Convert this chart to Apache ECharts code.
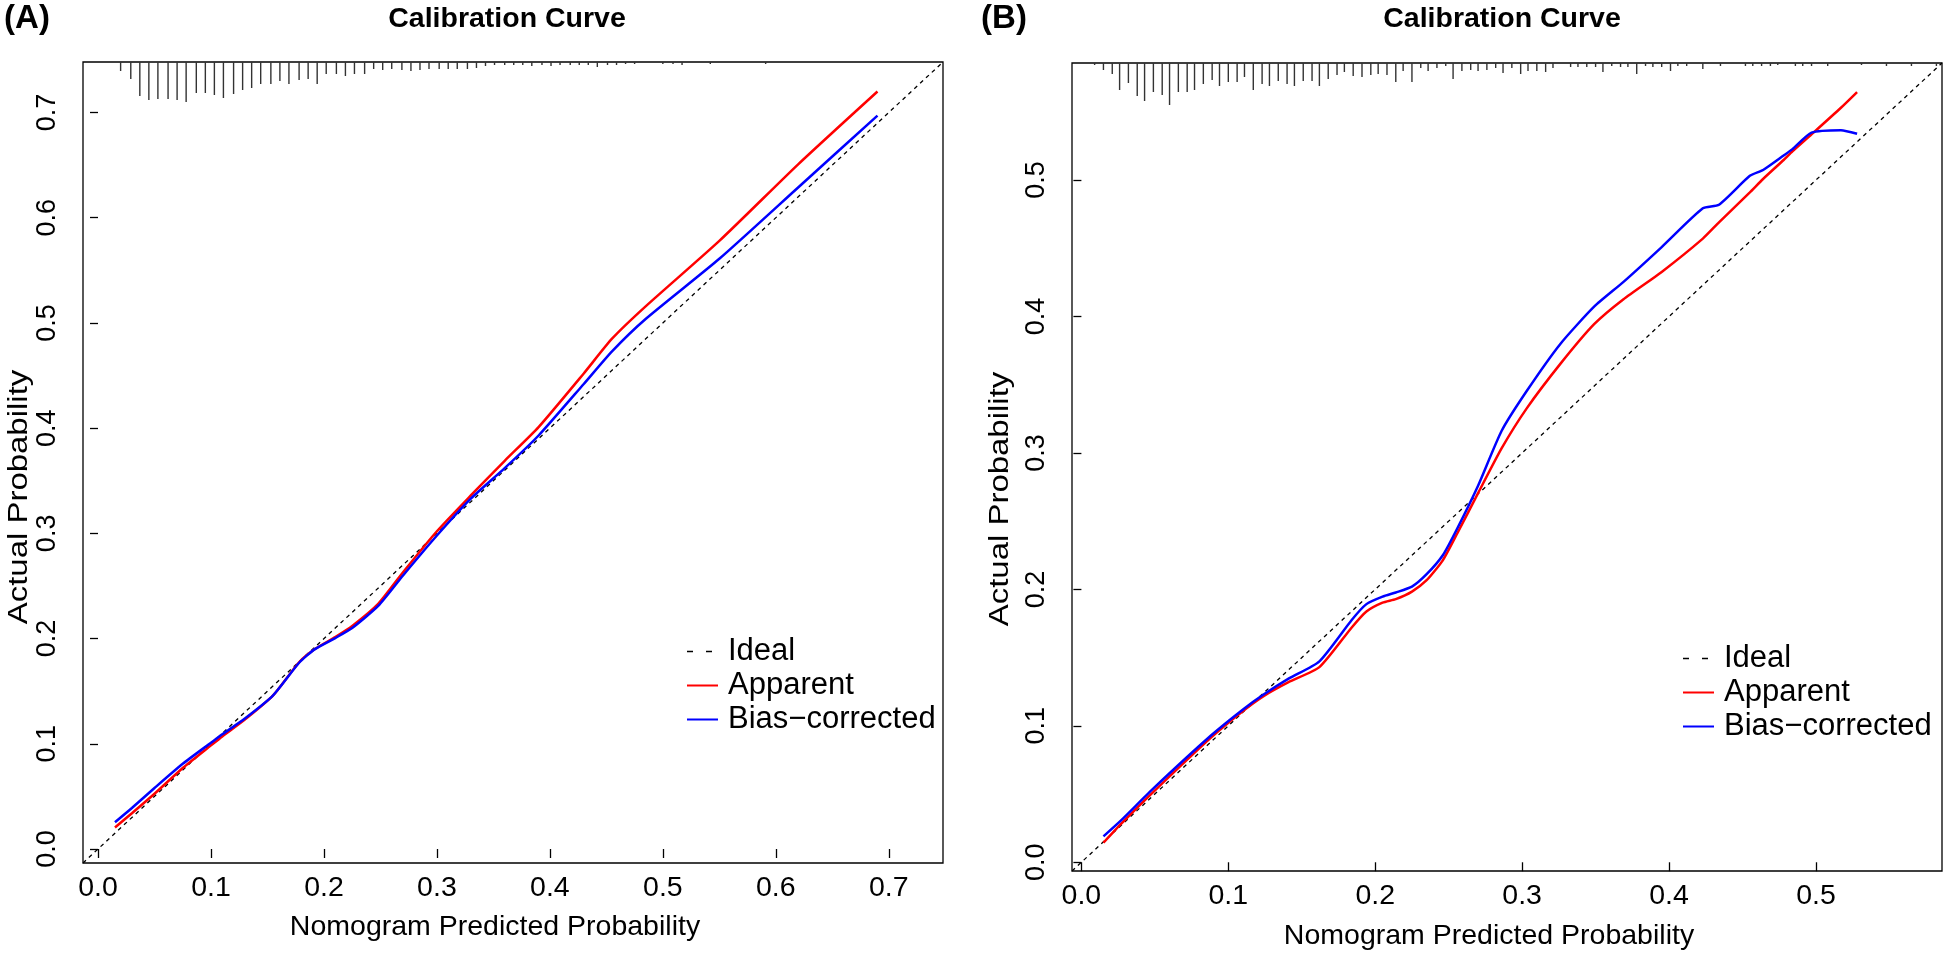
<!DOCTYPE html>
<html>
<head>
<meta charset="utf-8">
<title>Calibration Curve</title>
<script src="https://cdn.jsdelivr.net/npm/echarts@6/dist/echarts.min.js"></script>
<style>
html,body{margin:0;padding:0;background:#fff;}
#main{width:1944px;height:955px;}
</style>
</head>
<body>
<div id="main"></div>
<script>
// ---------- data ----------
var ticksA = [0, 0.1, 0.2, 0.3, 0.4, 0.5, 0.6, 0.7];
var ticksB = [0, 0.1, 0.2, 0.3, 0.4, 0.5];

// panel A : predicted vs actual
var predA     = [0.015, 0.03, 0.05, 0.075, 0.1, 0.11, 0.13, 0.155, 0.178, 0.192, 0.21, 0.225, 0.248, 0.27, 0.3, 0.33, 0.36, 0.39, 0.43, 0.455, 0.485, 0.55, 0.62, 0.69];
var apparentA = [0.0205, 0.034, 0.0525, 0.077, 0.0985, 0.107, 0.123, 0.146, 0.1775, 0.19, 0.2015, 0.212, 0.233, 0.263, 0.302, 0.336, 0.369, 0.401, 0.452, 0.485, 0.516, 0.578, 0.651, 0.72];
var biasA     = [0.0255, 0.039, 0.058, 0.081, 0.101, 0.109, 0.124, 0.146, 0.177, 0.19, 0.2005, 0.21, 0.231, 0.26, 0.298, 0.333, 0.362, 0.393, 0.442, 0.473, 0.504, 0.561, 0.629, 0.697];

// panel B
var predB     = [0.015, 0.027, 0.0485, 0.088, 0.11, 0.124, 0.141, 0.162, 0.184, 0.194, 0.205, 0.214, 0.225, 0.235, 0.246, 0.256, 0.27, 0.286, 0.303, 0.326, 0.349, 0.369, 0.395, 0.423, 0.434, 0.455, 0.464, 0.478, 0.484, 0.497, 0.517, 0.528];
var apparentB = [0.0143, 0.0281, 0.0511, 0.0912, 0.1109, 0.1218, 0.132, 0.143, 0.1721, 0.1838, 0.1903, 0.1929, 0.1984, 0.2067, 0.2213, 0.2414, 0.2705, 0.3033, 0.3325, 0.3653, 0.3944, 0.4127, 0.4327, 0.4571, 0.469, 0.491, 0.5008, 0.5147, 0.521, 0.5335, 0.553, 0.5645];
var biasB     = [0.019, 0.0307, 0.0536, 0.0927, 0.112, 0.1229, 0.1346, 0.1473, 0.1776, 0.1892, 0.1947, 0.1977, 0.202, 0.2111, 0.225, 0.245, 0.276, 0.3161, 0.3452, 0.3799, 0.4072, 0.4254, 0.4509, 0.4793, 0.4819, 0.5031, 0.5074, 0.518, 0.5227, 0.5348, 0.5366, 0.534];

// distribution of predictions (rug at the top), relative frequency
var rugXA = [0.020, 0.029, 0.037, 0.045, 0.053, 0.062, 0.070, 0.078, 0.087, 0.095, 0.103, 0.111, 0.120, 0.128, 0.136, 0.144, 0.153, 0.161, 0.169, 0.178, 0.186, 0.194, 0.202, 0.211, 0.219, 0.227, 0.236, 0.244, 0.252, 0.260, 0.269, 0.277, 0.285, 0.293, 0.302, 0.310, 0.318, 0.327, 0.335, 0.343, 0.351, 0.360, 0.368, 0.376, 0.384, 0.393, 0.401, 0.409, 0.418, 0.426, 0.434, 0.442, 0.451, 0.459, 0.467, 0.475, 0.500, 0.509, 0.517, 0.542, 0.591];
var rugFA = [9, 17, 34, 38, 37, 37, 38, 40, 31, 31, 33, 36, 32, 28, 26, 22, 22, 19, 22, 18, 17, 22, 12, 12, 14, 12, 12, 7, 8, 7, 8, 9, 8, 7, 7, 7, 7, 7, 6, 4, 3, 3, 3, 3, 4, 3, 4, 3, 3, 3, 3, 5, 3, 3, 2, 2, 2, 2, 3, 2, 2];
var rugXB = [0.009, 0.015, 0.021, 0.026, 0.032, 0.038, 0.043, 0.049, 0.055, 0.060, 0.066, 0.072, 0.077, 0.083, 0.089, 0.094, 0.100, 0.106, 0.111, 0.117, 0.123, 0.128, 0.134, 0.140, 0.145, 0.151, 0.157, 0.162, 0.168, 0.174, 0.179, 0.185, 0.191, 0.197, 0.202, 0.208, 0.214, 0.219, 0.225, 0.231, 0.236, 0.242, 0.248, 0.253, 0.259, 0.265, 0.270, 0.276, 0.282, 0.287, 0.293, 0.299, 0.304, 0.310, 0.316, 0.321, 0.333, 0.338, 0.344, 0.350, 0.355, 0.361, 0.367, 0.372, 0.378, 0.384, 0.389, 0.395, 0.401, 0.406, 0.412, 0.423, 0.435, 0.452, 0.457, 0.463, 0.469, 0.474, 0.486, 0.491, 0.497, 0.508, 0.531, 0.548, 0.565, 0.582];
var rugFB = [2, 7, 11, 27, 20, 33, 38, 29, 32, 42, 29, 29, 27, 21, 17, 23, 19, 19, 14, 27, 21, 23, 18, 21, 23, 18, 18, 23, 16, 12, 9, 13, 14, 12, 11, 12, 19, 8, 19, 5, 8, 5, 3, 16, 8, 7, 8, 7, 5, 10, 5, 11, 8, 8, 9, 5, 4, 4, 4, 4, 9, 3, 4, 4, 11, 3, 4, 4, 8, 3, 3, 6, 3, 3, 3, 3, 3, 2, 3, 3, 3, 3, 2, 3, 3, 3];

var limA = [-0.0133, 0.748];
var limB = [-0.0064, 0.5858];

// ---------- helpers ----------
var FONT = '"Liberation Sans", Arial, Helvetica, sans-serif';
var FS = 28.5;
function pairs(xs, ys){
    var out = [];
    for (var i = 0; i < xs.length; i++) out.push([xs[i], ys[i]]);
    return out;
}
function rugItem(params, api){
    var p = api.coord([api.value(0), 0]);
    var top = params.coordSys.y;
    return {
        type: 'line',
        shape: {x1: p[0], y1: top, x2: p[0], y2: top + api.value(1)},
        style: {stroke: '#333', lineWidth: 1.4}
    };
}
function xAxisOf(idx, lim, ticks){
    return {
        type: 'value', gridIndex: idx, min: lim[0], max: lim[1],
        axisLine: {show: false},
        splitLine: {show: false},
        axisTick: {show: true, inside: false, length: 9, customValues: ticks, lineStyle: {color: '#000', width: 1.3}},
        axisLabel: {show: true, margin: 11, customValues: ticks, color: '#000', fontSize: FS, fontFamily: FONT,
            formatter: function(v){ return v.toFixed(1); }}
    };
}
function yAxisOf(idx, lim, ticks, margin){
    return {
        type: 'value', gridIndex: idx, min: lim[0], max: lim[1],
        axisLine: {show: false},
        splitLine: {show: false},
        axisTick: {show: true, inside: false, length: 8, customValues: ticks, lineStyle: {color: '#000', width: 1.3}},
        axisLabel: {show: true, rotate: 90, margin: margin, customValues: ticks, color: '#000', fontSize: 27, fontFamily: FONT,
            formatter: function(v){ return v.toFixed(1); }}
    };
}
function seriesOf(idx, lim, pred, app, bias, rugX, rugF){
    return [
        {name: 'Ideal', type: 'line', xAxisIndex: idx, yAxisIndex: idx, symbol: 'none', silent: true,
         data: [[lim[0], lim[0]], [lim[1], lim[1]]],
         lineStyle: {color: '#000', width: 1.3, type: [4, 4]}, itemStyle: {color: '#000'}},
        {name: 'Apparent', type: 'line', xAxisIndex: idx, yAxisIndex: idx, symbol: 'none', smooth: 0.2,
         data: pairs(pred, app), lineStyle: {color: '#ff0000', width: 2.5}, itemStyle: {color: '#ff0000'}},
        {name: 'Bias\u2212corrected', type: 'line', xAxisIndex: idx, yAxisIndex: idx, symbol: 'none', smooth: 0.2,
         data: pairs(pred, bias), lineStyle: {color: '#0000ff', width: 2.5}, itemStyle: {color: '#0000ff'}},
        {name: 'rug', type: 'custom', xAxisIndex: idx, yAxisIndex: idx, silent: true,
         renderItem: rugItem, data: pairs(rugX, rugF)}
    ];
}
function legendOf(left, top){
    return {
        orient: 'vertical', left: left, top: top, itemWidth: 31, itemHeight: 14, itemGap: 3,
        selectedMode: false,
        itemStyle: {opacity: 0},
        textStyle: {fontSize: 31, lineHeight: 31, fontFamily: FONT, color: '#000', padding: [0, 0, 0, 5]},
        data: [
            {name: 'Ideal', lineStyle: {type: [6, 13], width: 1.4, color: '#000'}},
            {name: 'Apparent'},
            {name: 'Bias\u2212corrected'}
        ]
    };
}
function txt(x, y, s, size, bold, rot, stretch){
    return {
        type: 'text', x: x, y: y, rotation: rot || 0, scaleX: stretch || 1, silent: true,
        style: {text: s, font: (bold ? 'bold ' : '') + size + 'px ' + FONT, fill: '#000',
                textAlign: 'center', textVerticalAlign: 'middle', align: 'center', verticalAlign: 'middle'}
    };
}

var chart = echarts.init(document.getElementById('main'), null, {renderer: 'canvas'});
var option = {
    backgroundColor: '#fff',
    animation: false,
    grid: [
        {left: 83, top: 62, width: 860, height: 801, show: true, borderColor: '#000', borderWidth: 1.3, backgroundColor: 'transparent', outerBoundsMode: 'none'},
        {left: 1072, top: 63, width: 870, height: 808, show: true, borderColor: '#000', borderWidth: 1.3, backgroundColor: 'transparent', outerBoundsMode: 'none'}
    ],
    xAxis: [xAxisOf(0, limA, ticksA), xAxisOf(1, limB, ticksB)],
    yAxis: [yAxisOf(0, limA, ticksA, 22), yAxisOf(1, limB, ticksB, 22)],
    legend: [legendOf(681, 631), legendOf(1677, 638)],
    series: seriesOf(0, limA, predA, apparentA, biasA, rugXA, rugFA)
        .concat(seriesOf(1, limB, predB, apparentB, biasB, rugXB, rugFB)),
    graphic: [
        txt(27, 19, '(A)', 33, true),
        txt(1004, 19, '(B)', 33, true),
        txt(507, 19, 'Calibration Curve', 28.5, true),
        txt(1502, 19, 'Calibration Curve', 28.5, true),
        txt(495, 927, 'Nomogram Predicted Probability', FS, false),
        txt(1489, 936, 'Nomogram Predicted Probability', FS, false),
        txt(20, 497, 'Actual Probability', 27, false, Math.PI / 2, 1.22),
        txt(1001, 499, 'Actual Probability', 27, false, Math.PI / 2, 1.22)
    ]
};
chart.setOption(option);
</script>
</body>
</html>
